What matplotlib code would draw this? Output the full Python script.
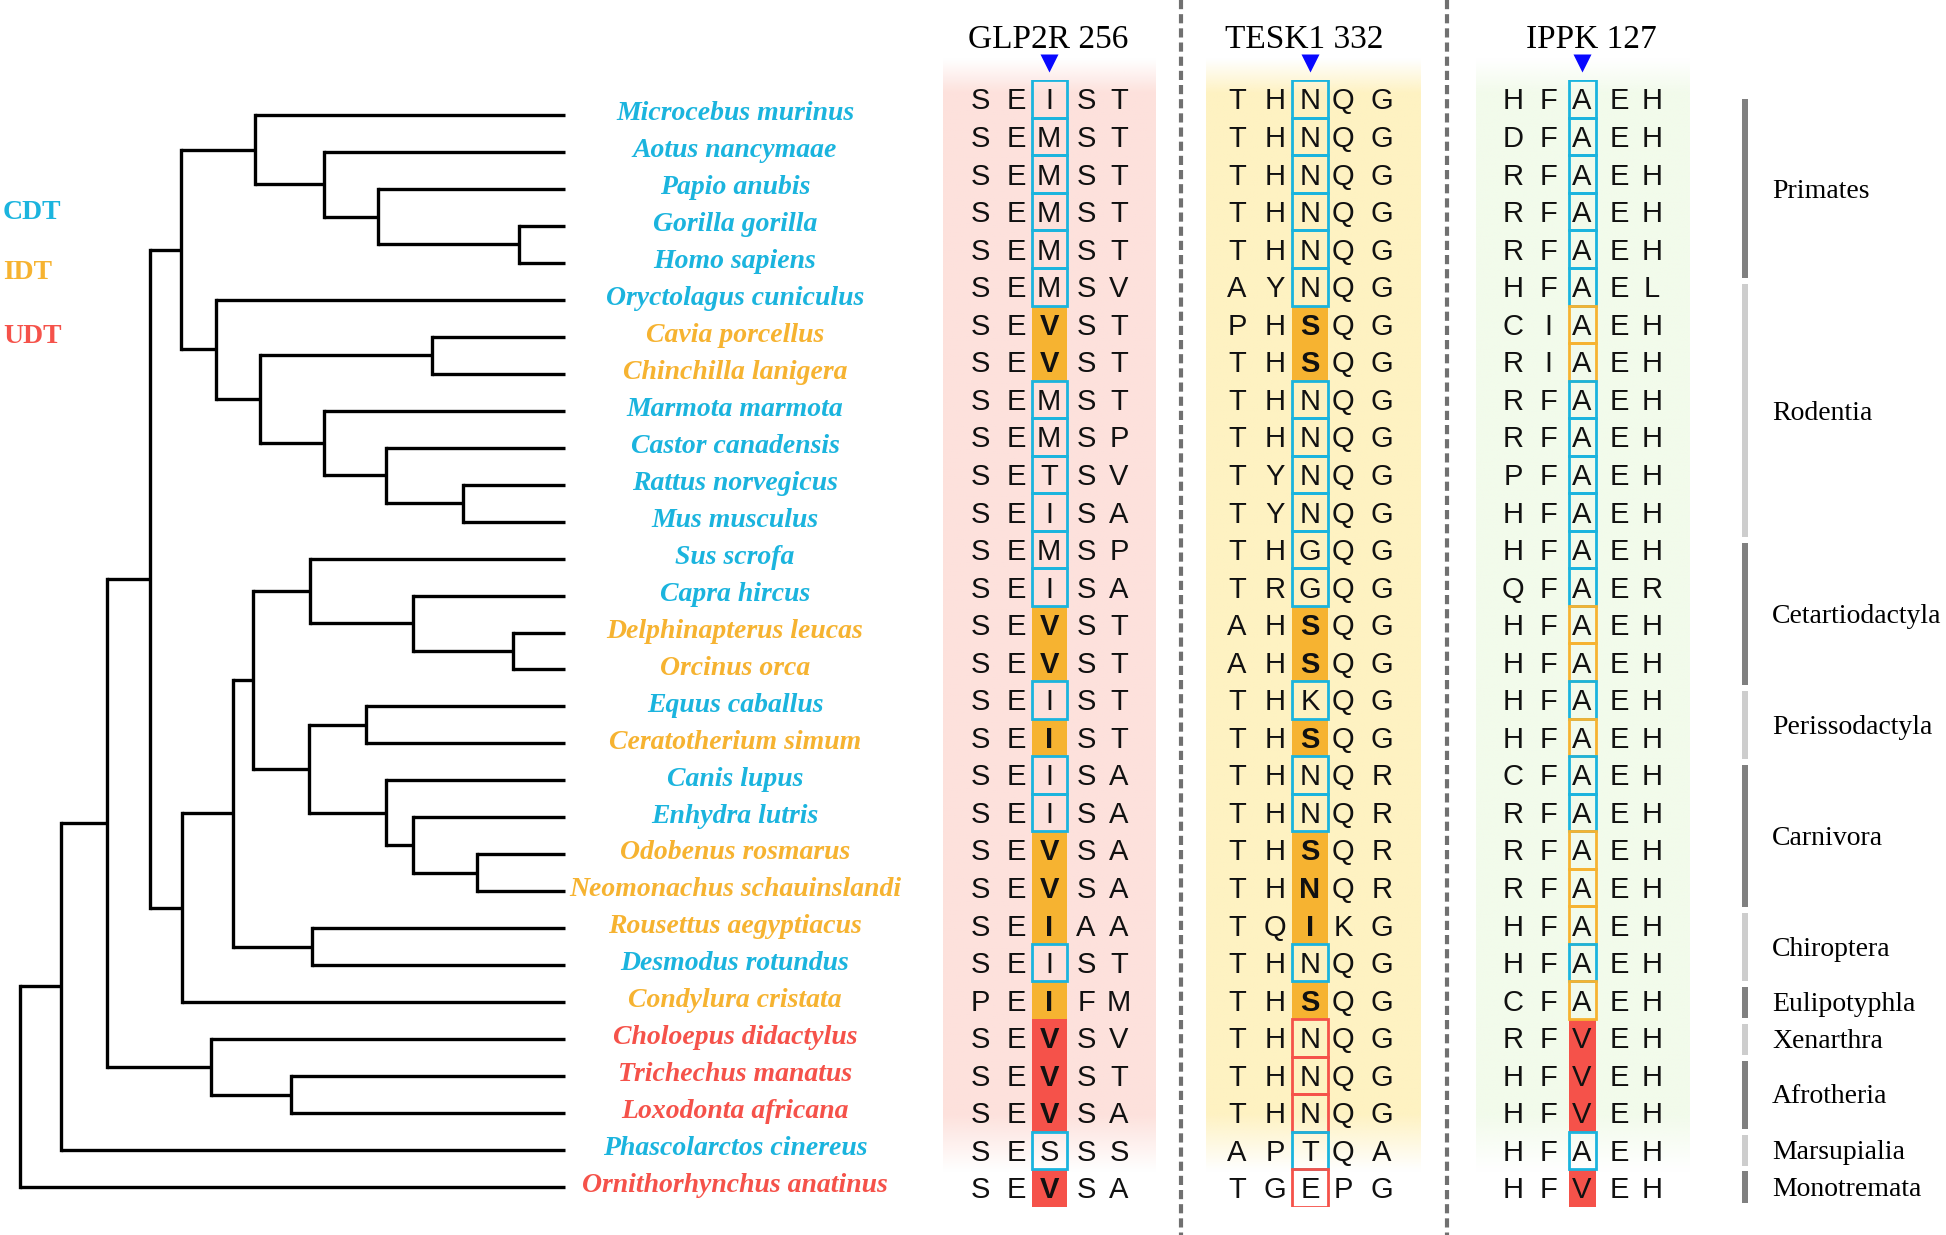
import numpy as np
import matplotlib
matplotlib.use('Agg')
import matplotlib.pyplot as plt
from matplotlib.patches import Rectangle

# ---- data ----
# tree (internal node labels = depth, root 0 -> tips 1)
newick = ("((((((Microcebus murinus,(Aotus nancymaae,(Papio anubis,(Gorilla gorilla,Homo sapiens)0.917)0.657)0.559)0.431,"
          "(Oryctolagus cuniculus,((Cavia porcellus,Chinchilla lanigera)0.756,(Marmota marmota,(Castor canadensis,"
          "(Rattus norvegicus,Mus musculus)0.814)0.673)0.559)0.440)0.360)0.296,"
          "((((Sus scrofa,(Capra hircus,(Delphinapterus leucas,Orcinus orca)0.905)0.721)0.533,"
          "((Equus caballus,Ceratotherium simum)0.635,(Canis lupus,(Enhydra lutris,(Odobenus rosmarus,"
          "Neomonachus schauinslandi)0.840)0.721)0.673)0.531)0.427,(Rousettus aegyptiacus,Desmodus rotundus)0.536)0.392,"
          "Condylura cristata)0.298)0.239,(Choloepus didactylus,(Trichechus manatus,Loxodonta africana)0.498)0.351)0.160,"
          "Phascolarctos cinereus)0.075,Ornithorhynchus anatinus)0.0")

species = ['Microcebus murinus', 'Aotus nancymaae', 'Papio anubis', 'Gorilla gorilla', 'Homo sapiens',
           'Oryctolagus cuniculus', 'Cavia porcellus', 'Chinchilla lanigera', 'Marmota marmota',
           'Castor canadensis', 'Rattus norvegicus', 'Mus musculus', 'Sus scrofa', 'Capra hircus',
           'Delphinapterus leucas', 'Orcinus orca', 'Equus caballus', 'Ceratotherium simum', 'Canis lupus',
           'Enhydra lutris', 'Odobenus rosmarus', 'Neomonachus schauinslandi', 'Rousettus aegyptiacus',
           'Desmodus rotundus', 'Condylura cristata', 'Choloepus didactylus', 'Trichechus manatus',
           'Loxodonta africana', 'Phascolarctos cinereus', 'Ornithorhynchus anatinus']
# C = CDT, I = IDT, U = UDT
state = "CCCCCCIICCCCCCIICICCIIICIUUUCU"

genes = ['GLP2R 256', 'TESK1 332', 'IPPK 127']
glp2r = ['SEIST', 'SEMST', 'SEMST', 'SEMST', 'SEMST', 'SEMSV', 'SEVST', 'SEVST', 'SEMST', 'SEMSP',
         'SETSV', 'SEISA', 'SEMSP', 'SEISA', 'SEVST', 'SEVST', 'SEIST', 'SEIST', 'SEISA', 'SEISA',
         'SEVSA', 'SEVSA', 'SEIAA', 'SEIST', 'PEIFM', 'SEVSV', 'SEVST', 'SEVSA', 'SESSS', 'SEVSA']
tesk1 = ['THNQG', 'THNQG', 'THNQG', 'THNQG', 'THNQG', 'AYNQG', 'PHSQG', 'THSQG', 'THNQG', 'THNQG',
         'TYNQG', 'TYNQG', 'THGQG', 'TRGQG', 'AHSQG', 'AHSQG', 'THKQG', 'THSQG', 'THNQR', 'THNQR',
         'THSQR', 'THNQR', 'TQIKG', 'THNQG', 'THSQG', 'THNQG', 'THNQG', 'THNQG', 'APTQA', 'TGEPG']
ippk = ['HFAEH', 'DFAEH', 'RFAEH', 'RFAEH', 'RFAEH', 'HFAEL', 'CIAEH', 'RIAEH', 'RFAEH', 'RFAEH',
        'PFAEH', 'HFAEH', 'HFAEH', 'QFAER', 'HFAEH', 'HFAEH', 'HFAEH', 'HFAEH', 'CFAEH', 'RFAEH',
        'RFAEH', 'RFAEH', 'HFAEH', 'HFAEH', 'CFAEH', 'RFVEH', 'HFVEH', 'HFVEH', 'HFAEH', 'HFVEH']
# which states get a filled cell in each gene
fill_states = ['IU', 'I', 'U']

clade_names = ['Primates', 'Rodentia', 'Cetartiodactyla', 'Perissodactyla', 'Carnivora', 'Chiroptera',
               'Eulipotyphla', 'Xenarthra', 'Afrotheria', 'Marsupialia', 'Monotremata']
clade_first = [0, 5, 12, 16, 18, 22, 24, 25, 26, 28, 29]
clade_last = [4, 11, 15, 17, 21, 23, 24, 25, 27, 28, 29]

legend = ['CDT', 'IDT', 'UDT']

# ---- styles ----
col = {'C': '#1bb4de', 'I': '#f6b331', 'U': '#f5524a'}
W, H = 1946, 1235
serif = 'Liberation Serif'
sans = 'Liberation Sans'


def parse(s, i=0):
    if s[i] == '(':
        kids = []
        i += 1
        while True:
            c, i = parse(s, i)
            kids.append(c)
            if s[i] == ',':
                i += 1
                continue
            i += 1
            break
        j = i
        while i < len(s) and s[i] not in ',)':
            i += 1
        return {'d': float(s[j:i]), 'kids': kids}, i
    j = i
    while i < len(s) and s[i] not in ',)':
        i += 1
    return {'name': s[j:i], 'd': 1.0}, i


fig = plt.figure(figsize=(W / 100, H / 100), dpi=100)


def px_axes(x0, y0, x1, y1):
    a = fig.add_axes([x0 / W, 1 - y1 / H, (x1 - x0) / W, (y1 - y0) / H])
    a.axis('off')
    return a


ax_px = px_axes(0, 0, W, H)

# shaded backgrounds of the three blocks
bg_cols = ['#fde1dc', '#fef2c2', '#f2fbeb']
bg_x = [(943, 1156), (1206, 1421), (1476, 1690)]
ys = np.linspace(50, 1180, 500)
ramp = lambda v, a, b: np.clip((v - a) / (b - a), 0, 1)
alpha = ramp(ys, 58, 92) * (1 - ramp(ys, 1115, 1172))
for c, (x0, x1) in zip(bg_cols, bg_x):
    img = np.zeros((len(ys), 1, 4))
    img[:, 0, :3] = matplotlib.colors.to_rgb(c)
    img[:, 0, 3] = alpha
    ax_px.imshow(img, extent=(x0, x1, 1180, 50), aspect='auto', interpolation='bilinear', zorder=0)

for x in [1181, 1447]:
    ax_px.plot([x, x], [0, H], color='#707070', lw=3, dashes=(2.2, 1.2), zorder=1)

gene_x = [1049, 1310, 1582]
header_x = [1048, 1304, 1591]
for g, gx, hx in zip(genes, gene_x, header_x):
    ax_px.text(hx, 48, g, ha='center', va='baseline', fontsize=24, family=serif, color='black')
    ax_px.plot([gx], [63], marker='v', color='#0808ff', markersize=13, mec='none')

for t, yb in zip(legend, [219, 279, 343]):
    ax_px.text(3, yb, t, ha='left', va='baseline', fontsize=20, family=serif, weight='bold', color=col[t[0]])

ax_px.set_xlim(0, W)
ax_px.set_ylim(H, 0)

# ---- tree ----
ax_tree = px_axes(20, 96.5, 564.5, 1205.5)
ax_tree.set_xlim(0, 1)
ax_tree.set_ylim(29.5, -0.5)
root, _ = parse(newick)
leaf_count = [0]


def draw(node):
    if 'name' in node:
        node['y'] = leaf_count[0]
        leaf_count[0] += 1
        return
    for k in node['kids']:
        draw(k)
    yk = [k['y'] for k in node['kids']]
    node['y'] = (min(yk) + max(yk)) / 2
    ax_tree.plot([node['d'], node['d']], [min(yk), max(yk)], color='black', lw=2.4,
                 solid_capstyle='projecting', clip_on=False)
    for k in node['kids']:
        ax_tree.plot([node['d'], k['d']], [k['y'], k['y']], color='black', lw=2.4,
                     solid_capstyle='butt', clip_on=False)


draw(root)

# ---- species labels and clade bars ----
ax_sp = px_axes(0, 96.5, W, 1205.5)
ax_sp.set_xlim(0, W)
ax_sp.set_ylim(29.5, -0.5)
for i, (sp, st) in enumerate(zip(species, state)):
    ax_sp.text(735, i + 0.14, sp, ha='center', va='baseline', fontsize=20, family=serif,
               weight='bold', style='italic', color=col[st])

for k, (name, a, b) in enumerate(zip(clade_names, clade_first, clade_last)):
    ax_sp.add_patch(Rectangle((1742, a - 0.42), 6, b - a + 0.84,
                              color='#808080' if k % 2 == 0 else '#cdcdcd', lw=0))
    ax_sp.text(1772, (a + b) / 2 + 0.24, name, ha='left', va='baseline', fontsize=20, family=serif)

# ---- alignment ----
ax_al = px_axes(0, 80.2, W, 1206.7)
ax_al.set_xlim(0, W)
ax_al.set_ylim(29.5, -0.5)
offsets = [[-69, -33, 0, 37, 70], [-73, -35, 0, 33, 72], [-69, -34, 0, 37, 70]]
box_w = [35, 36, 27]
bold_fill = [True, True, False]
for seqs, gx, bw, fs, bf, offs in zip([glp2r, tesk1, ippk], gene_x, box_w, fill_states, bold_fill, offsets):
    for i, (seq, st) in enumerate(zip(seqs, state)):
        filled = st in fs
        if filled:
            ax_al.add_patch(Rectangle((gx - bw / 2, i - 0.5), bw, 1, facecolor=col[st], lw=0, zorder=2))
        else:
            ax_al.add_patch(Rectangle((gx - bw / 2, i - 0.5), bw, 1, facecolor='none',
                                      edgecolor=col[st], lw=2, zorder=3))
        for k, (aa, off) in enumerate(zip(seq, offs)):
            w = 'bold' if (k == 2 and filled and bf) else 'normal'
            ax_al.text(gx + off, i + 0.28, aa, ha='center', va='baseline', fontsize=21,
                       family=sans, weight=w, color='#111111', zorder=4)

fig.savefig('out.png', dpi=100)
